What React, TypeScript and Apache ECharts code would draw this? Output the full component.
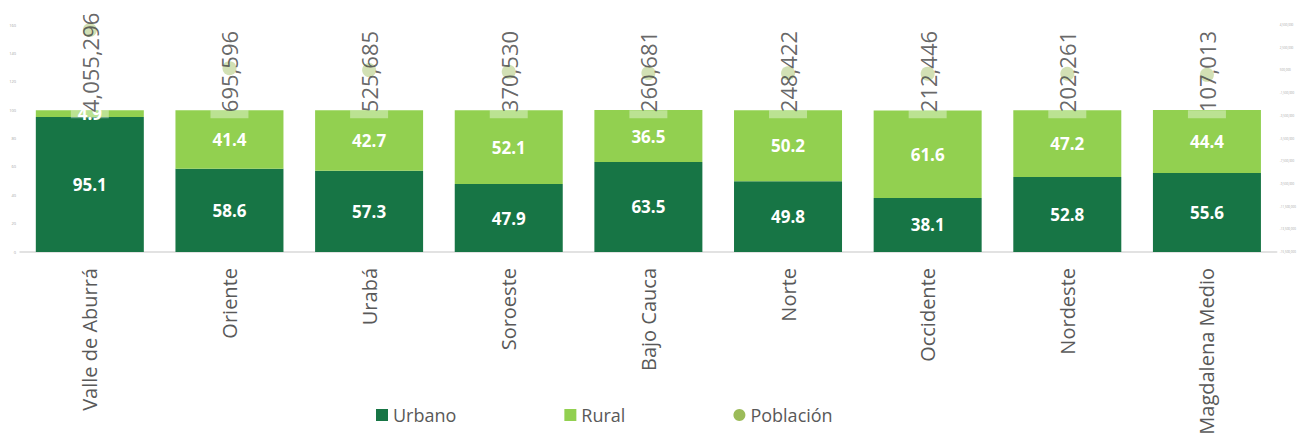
import React, { useEffect, useRef } from "react";
import * as echarts from "echarts";

const categories = [
  "Valle de Aburrá",
  "Oriente",
  "Urabá",
  "Soroeste",
  "Bajo Cauca",
  "Norte",
  "Occidente",
  "Nordeste",
  "Magdalena Medio",
];
const urbano = [95.1, 58.6, 57.3, 47.9, 63.5, 49.8, 38.1, 52.8, 55.6];
const rural = [4.9, 41.4, 42.7, 52.1, 36.5, 50.2, 61.6, 47.2, 44.4];
const poblacion = [4055296, 695596, 525685, 370530, 260681, 248422, 212446, 202261, 107013];
const totals = [100, 100, 100, 100, 100, 100, 100, 100, 100];

const FONT = "'Open Sans', sans-serif";
const fmt = (v: number) => Math.round(v).toLocaleString("en-US");

export default function App() {
  const ref = useRef<HTMLDivElement>(null);
  useEffect(() => {
    document.body.style.margin = "0";
    if (!ref.current) return;
    const chart = echarts.init(ref.current, undefined, { renderer: "svg" });
    chart.setOption({
      animation: false,
      grid: { left: 20, right: 18, top: 25, bottom: 193, containLabel: false },
      legend: {
        left: 371,
        top: 401,
        itemWidth: 12,
        itemHeight: 12,
        itemGap: 108,
        textStyle: { fontFamily: FONT, fontSize: 18, color: "#595959" },
        data: [
          { name: "Urbano", icon: "rect" },
          { name: "Rural", icon: "rect" },
          { name: "Población", icon: "circle", itemStyle: { color: "#9BBB59", opacity: 1 } },
        ],
      },
      xAxis: {
        type: "category",
        data: categories,
        axisTick: { show: false },
        axisLine: { lineStyle: { color: "#D9D9D9", width: 1.5 } },
        axisLabel: {
          rotate: 90,
          margin: 16,
          fontFamily: FONT,
          fontSize: 20,
          color: "#595959",
          interval: 0,
        },
      },
      yAxis: [
        {
          type: "value",
          min: 0,
          max: 160,
          interval: 20,
          splitLine: { show: false },
          axisLine: { show: false },
          axisTick: { show: false },
          axisLabel: { fontSize: 4, color: "#A6A6A6", margin: 4, fontFamily: FONT },
        },
        {
          type: "value",
          min: -15500000,
          max: 4500000,
          interval: 2000000,
          position: "right",
          splitLine: { show: false },
          axisLine: { show: false },
          axisTick: { show: false },
          axisLabel: {
            fontSize: 3,
            color: "#A6A6A6",
            margin: 3,
            fontFamily: FONT,
            formatter: (v: number) => fmt(v),
          },
        },
      ],
      series: [
        {
          name: "Urbano",
          type: "bar",
          stack: "total",
          data: urbano,
          barWidth: 108,
          z: 2,
          itemStyle: { color: "#177545" },
          label: {
            show: true,
            position: "inside",
            color: "#FFFFFF",
            fontFamily: FONT,
            fontWeight: "bold",
            fontSize: 17,
            formatter: (p: any) => p.value.toFixed(1),
          },
        },
        {
          name: "Rural",
          type: "bar",
          stack: "total",
          data: rural,
          barWidth: 108,
          z: 2,
          itemStyle: { color: "#92D050" },
          label: {
            show: true,
            position: "inside",
            color: "#FFFFFF",
            fontFamily: FONT,
            fontWeight: "bold",
            fontSize: 17,
            formatter: (p: any) => p.value.toFixed(1),
          },
        },
        {
          name: "Población",
          type: "scatter",
          yAxisIndex: 1,
          data: poblacion,
          symbol: "circle",
          symbolSize: 14,
          z: 3,
          itemStyle: { color: "#9BBB59", opacity: 0.45 },
        },
        {
          name: "cap",
          type: "scatter",
          yAxisIndex: 0,
          data: totals,
          symbol: "rect",
          symbolSize: [38, 8],
          symbolOffset: [0, 4],
          z: 4,
          silent: true,
          itemStyle: { color: "rgba(255,255,255,0.47)" },
          label: {
            show: true,
            position: "top",
            distance: -2,
            rotate: 90,
            align: "left",
            verticalAlign: "middle",
            fontFamily: FONT,
            fontSize: 22,
            color: "#404040",
            formatter: (p: any) => fmt(poblacion[p.dataIndex]),
          },
        },
      ],
    });
    return () => chart.dispose();
  }, []);
  return <div ref={ref} style={{ width: 1299, height: 445 }} />;
}
